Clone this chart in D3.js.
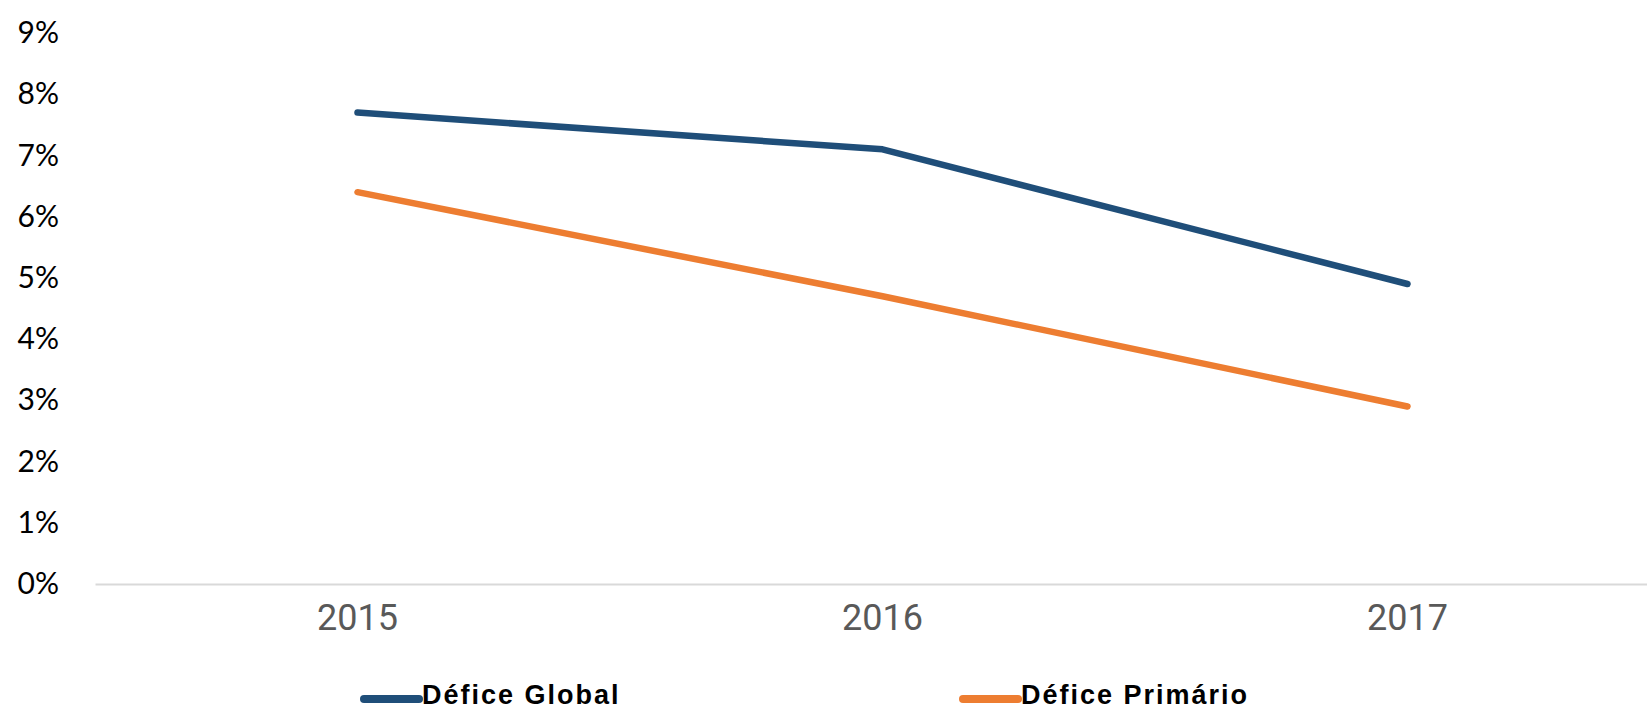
<!DOCTYPE html>
<html>
<head>
<meta charset="utf-8">
<script src="https://cdn.jsdelivr.net/npm/d3@7"></script>
<style>
  body { margin: 0; background: #fff; }
  svg { display: block; }
</style>
</head>
<body>
<div id="chart"></div>
<script>
const width = 1647,
      height = 712,
      margin = ({ top: 33, right: -23, bottom: 128, left: 95 });

// data
const years = ["2015", "2016", "2017"];
const deficeGlobal = [7.7, 7.1, 4.9];
const deficePrimario = [6.4, 4.7, 2.9];
const yTicks = [0, 1, 2, 3, 4, 5, 6, 7, 8, 9];
const seriesNames = ["Défice Global", "Défice Primário"];
const seriesColors = ["#1F4E79", "#ED7D31"];

const svg = d3.select("#chart")
    .append("svg")
    .attr("width", width)
    .attr("height", height);

const x = d3.scaleBand()
    .domain(years)
    .range([margin.left, width - margin.right])
    .padding(0);

const y = d3.scaleLinear()
    .domain([0, 9])
    .range([height - margin.bottom, margin.top]);

// y labels only, no axis line
svg.append("g")
    .attr("transform", `translate(59, 0)`)
    .call(d3.axisLeft(y).tickValues(yTicks).tickFormat(d => d + "%").tickSize(0).tickPadding(0))
    .call(g => g.select(".domain").remove())
    .call(g => g.selectAll("text")
        .attr("font-family", "Lato, 'Liberation Sans', sans-serif")
        .attr("font-size", 30)
        .attr("fill", "#000"));

// x axis
svg.append("g")
    .attr("transform", `translate(0, ${y(0)})`)
    .call(d3.axisBottom(x).tickSize(0).tickPadding(20))
    .call(g => g.select(".domain").attr("stroke", "#D9D9D9").attr("stroke-width", 2))
    .call(g => g.selectAll("text")
        .attr("font-family", "'Liberation Sans Narrow', 'Roboto', sans-serif")
        .attr("font-size", 36)
        .attr("fill", "#595959"));

const line = d3.line()
    .x((d, i) => x(years[i]) + x.bandwidth() / 2)
    .y(d => y(d));

[deficeGlobal, deficePrimario].forEach((s, i) => {
    svg.append("path")
        .datum(s)
        .attr("fill", "none")
        .attr("stroke", seriesColors[i])
        .attr("stroke-width", 6.5)
        .attr("stroke-linecap", "round")
        .attr("stroke-linejoin", "round")
        .attr("d", line);
});

// legend
const legendX = [364, 963];
const legend = svg.selectAll(".legend")
    .data(seriesNames)
    .join("g")
    .attr("class", "legend")
    .attr("transform", (d, i) => `translate(${legendX[i]}, 699)`);

legend.append("line")
    .attr("x1", 0)
    .attr("x2", 55)
    .attr("stroke", (d, i) => seriesColors[i])
    .attr("stroke-width", 8)
    .attr("stroke-linecap", "round");

legend.append("text")
    .attr("x", 58)
    .attr("y", -4)
    .attr("dy", "0.35em")
    .attr("font-family", "'Liberation Sans', sans-serif")
    .attr("font-weight", "bold")
    .attr("font-size", 27)
    .attr("letter-spacing", 2)
    .attr("fill", "#000")
    .text(d => d);
</script>
</body>
</html>
